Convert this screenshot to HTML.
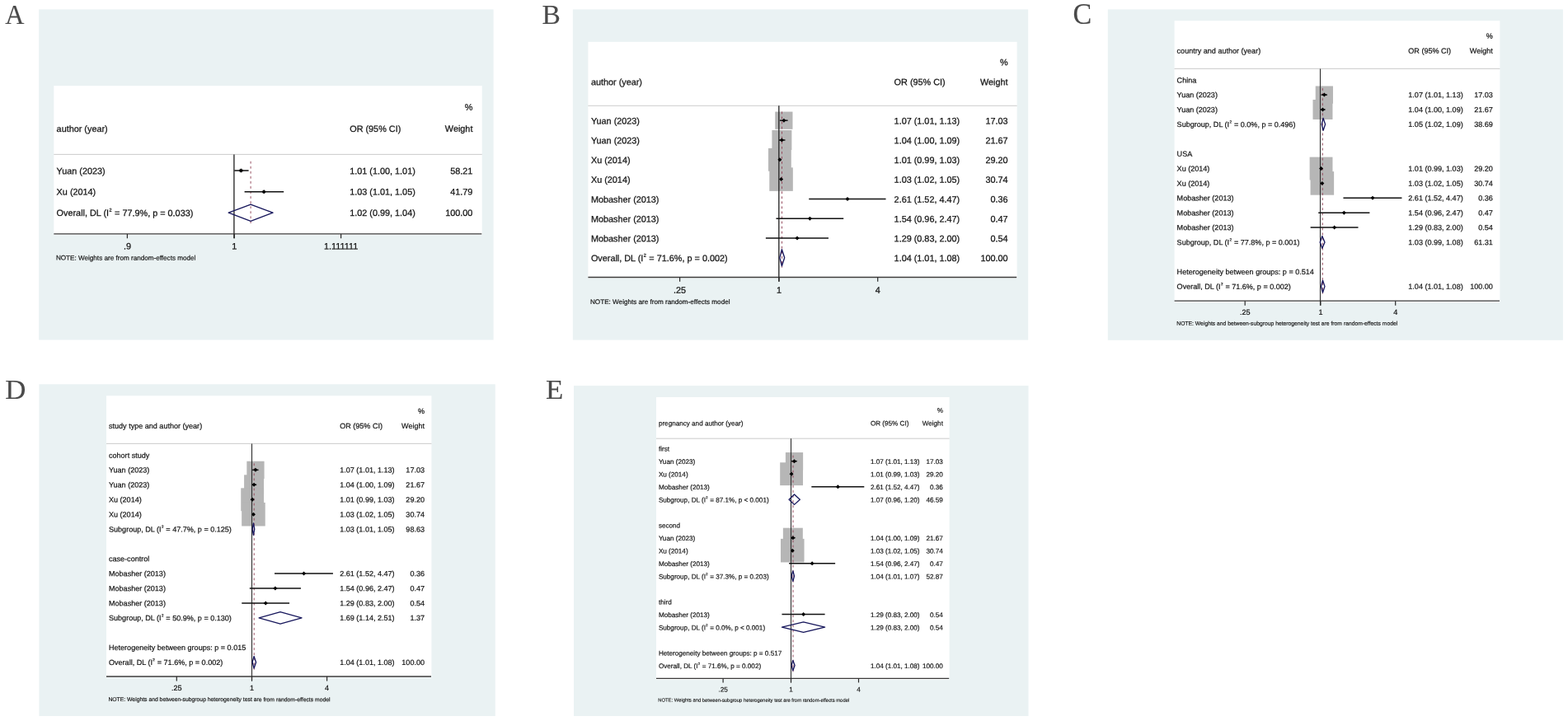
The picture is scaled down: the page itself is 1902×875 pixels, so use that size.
<!DOCTYPE html>
<html lang="en"><head><meta charset="utf-8"><title>Forest plots</title>
<style>
html,body{margin:0;padding:0;background:#fff;}
body{width:1902px;height:875px;overflow:hidden;}
svg{display:block;}
.s{font-family:"Liberation Sans",sans-serif;}
.r{font-family:"Liberation Serif",serif;}
text{white-space:pre;}
</style></head><body>
<svg width="1902" height="875" viewBox="0 0 1902 875">
<rect width="1902" height="875" fill="#fff"/>
<g>
<rect x="47.1" y="11.4" width="551.50" height="401.10" fill="#eaf2f3"/>
<rect x="65.3" y="104.1" width="519.40" height="181.25" fill="#fff"/>
<text class="r" transform="translate(6.3 29.3) scale(0.94 1)" font-size="34.2" fill="#4a4a4a" stroke="#4a4a4a" stroke-width="0.12">A</text>
<rect x="290.10" y="204.70" width="4.60" height="4.60" fill="#b6b6b6"/>
<rect x="318.10" y="230.70" width="4.00" height="4.00" fill="#b6b6b6"/>
<line x1="65.3" y1="187.4" x2="584.7" y2="187.4" stroke="#a8a8a8" stroke-width="0.6"/>
<line x1="65.3" y1="283.95" x2="584.30" y2="283.95" stroke="#3a3a3a" stroke-width="1.3"/>
<line x1="283.9" y1="187.4" x2="283.9" y2="289.15" stroke="#2e2e2e" stroke-width="1.4"/>
<line x1="154.4" y1="283.95" x2="154.4" y2="289.15" stroke="#2a2a2a" stroke-width="1.2"/>
<text class="s" transform="translate(154.40 302.48) rotate(0.03)" font-size="10.85" text-anchor="middle" fill="#141414" stroke="#141414" stroke-width="0.260">.9</text>
<line x1="284.3" y1="283.95" x2="284.3" y2="289.15" stroke="#2a2a2a" stroke-width="1.2"/>
<text class="s" transform="translate(284.30 302.48) rotate(0.03)" font-size="10.85" text-anchor="middle" fill="#141414" stroke="#141414" stroke-width="0.260">1</text>
<line x1="413.6" y1="283.95" x2="413.6" y2="289.15" stroke="#2a2a2a" stroke-width="1.2"/>
<text class="s" transform="translate(413.60 302.48) rotate(0.03)" font-size="10.85" text-anchor="middle" fill="#141414" stroke="#141414" stroke-width="0.260">1.111111</text>
<line x1="304.1" y1="195.8" x2="304.1" y2="271" stroke="#93475a" stroke-width="0.95" stroke-dasharray="2.8 3.25"/>
<text class="s" transform="translate(68.60 159.88) rotate(0.03)" font-size="10.85" fill="#141414" stroke="#141414" stroke-width="0.260">author (year)</text>
<text class="s" transform="translate(424.20 159.88) rotate(0.03)" font-size="10.85" fill="#141414" stroke="#141414" stroke-width="0.260">OR (95% CI)</text>
<text class="s" transform="translate(573.40 159.88) rotate(0.03)" font-size="10.85" text-anchor="end" fill="#141414" stroke="#141414" stroke-width="0.260">Weight</text>
<text class="s" transform="translate(573.40 133.88) rotate(0.03)" font-size="10.85" text-anchor="end" fill="#141414" stroke="#141414" stroke-width="0.260">%</text>
<text class="s" transform="translate(68.60 211.28) rotate(0.03)" font-size="10.85" fill="#141414" stroke="#141414" stroke-width="0.260">Yuan (2023)</text>
<text class="s" transform="translate(424.20 211.28) rotate(0.03)" font-size="10.85" fill="#141414" stroke="#141414" stroke-width="0.260">1.01 (1.00, 1.01)</text>
<text class="s" transform="translate(573.40 211.28) rotate(0.03)" font-size="10.85" text-anchor="end" fill="#141414" stroke="#141414" stroke-width="0.260">58.21</text>
<line x1="284.3" y1="207.0" x2="301.6" y2="207.0" stroke="#111" stroke-width="1.5"/>
<path d="M289.90 207.0L292.4 204.50L294.90 207.0L292.4 209.50Z" fill="#000"/>
<text class="s" transform="translate(68.60 236.58) rotate(0.03)" font-size="10.85" fill="#141414" stroke="#141414" stroke-width="0.260">Xu (2014)</text>
<text class="s" transform="translate(424.20 236.58) rotate(0.03)" font-size="10.85" fill="#141414" stroke="#141414" stroke-width="0.260">1.03 (1.01, 1.05)</text>
<text class="s" transform="translate(573.40 236.58) rotate(0.03)" font-size="10.85" text-anchor="end" fill="#141414" stroke="#141414" stroke-width="0.260">41.79</text>
<line x1="296.6" y1="232.7" x2="344.2" y2="232.7" stroke="#111" stroke-width="1.5"/>
<path d="M317.60 232.7L320.1 230.20L322.60 232.7L320.1 235.20Z" fill="#000"/>
<text class="s" transform="translate(68.60 262.08) rotate(0.03)" font-size="10.85" fill="#141414" stroke="#141414" stroke-width="0.260">Overall, DL (I<tspan dy="-5.64" dx="0.43" font-size="5.42">2</tspan><tspan dy="5.64" dx="0.54"> </tspan>= 77.9%, p = 0.033)</text>
<text class="s" transform="translate(424.20 262.08) rotate(0.03)" font-size="10.85" fill="#141414" stroke="#141414" stroke-width="0.260">1.02 (0.99, 1.04)</text>
<text class="s" transform="translate(573.40 262.08) rotate(0.03)" font-size="10.85" text-anchor="end" fill="#141414" stroke="#141414" stroke-width="0.260">100.00</text>
<path d="M277.2 258.2L304.1 248.1L331.0 258.2L304.1 268.3Z" fill="none" stroke="#17175c" stroke-width="1.35" stroke-linejoin="round"/>
<text class="s" transform="translate(67.90 315.62) rotate(0.03)" font-size="8.15" fill="#141414" stroke="#141414" stroke-width="0.196">NOTE: Weights are from random-effects model</text>
</g>
<g>
<rect x="694.8" y="11.4" width="552.40" height="401.20" fill="#eaf2f3"/>
<rect x="713.4" y="50.8" width="520.20" height="287.10" fill="#fff"/>
<text class="r" transform="translate(657.5 28.9) scale(0.98 1)" font-size="34.2" fill="#4a4a4a" stroke="#4a4a4a" stroke-width="0.12">B</text>
<rect x="940.23" y="135.57" width="21.25" height="21.25" fill="#b6b6b6"/>
<rect x="936.40" y="158.01" width="23.97" height="23.97" fill="#b6b6b6"/>
<rect x="931.95" y="179.88" width="27.83" height="27.83" fill="#b6b6b6"/>
<rect x="933.28" y="203.32" width="28.55" height="28.55" fill="#b6b6b6"/>
<line x1="713.4" y1="128.3" x2="1233.6" y2="128.3" stroke="#a8a8a8" stroke-width="0.6"/>
<line x1="713.4" y1="336.5" x2="1233.20" y2="336.5" stroke="#3a3a3a" stroke-width="1.3"/>
<line x1="944.8" y1="128.3" x2="944.8" y2="341.7" stroke="#2e2e2e" stroke-width="1.4"/>
<line x1="824.6" y1="336.5" x2="824.6" y2="341.7" stroke="#2a2a2a" stroke-width="1.2"/>
<text class="s" transform="translate(824.60 355.68) rotate(0.03)" font-size="10.85" text-anchor="middle" fill="#141414" stroke="#141414" stroke-width="0.260">.25</text>
<line x1="945.0" y1="336.5" x2="945.0" y2="341.7" stroke="#2a2a2a" stroke-width="1.2"/>
<text class="s" transform="translate(945.00 355.68) rotate(0.03)" font-size="10.85" text-anchor="middle" fill="#141414" stroke="#141414" stroke-width="0.260">1</text>
<line x1="1064.7" y1="336.5" x2="1064.7" y2="341.7" stroke="#2a2a2a" stroke-width="1.2"/>
<text class="s" transform="translate(1064.70 355.68) rotate(0.03)" font-size="10.85" text-anchor="middle" fill="#141414" stroke="#141414" stroke-width="0.260">4</text>
<line x1="948.5" y1="135.5" x2="948.5" y2="324.7" stroke="#93475a" stroke-width="0.95" stroke-dasharray="2.8 3.25"/>
<text class="s" transform="translate(716.90 103.18) rotate(0.03)" font-size="10.85" fill="#141414" stroke="#141414" stroke-width="0.260">author (year)</text>
<text class="s" transform="translate(1084.60 103.18) rotate(0.03)" font-size="10.85" fill="#141414" stroke="#141414" stroke-width="0.260">OR (95% CI)</text>
<text class="s" transform="translate(1222.60 103.18) rotate(0.03)" font-size="10.85" text-anchor="end" fill="#141414" stroke="#141414" stroke-width="0.260">Weight</text>
<text class="s" transform="translate(1222.60 79.28) rotate(0.03)" font-size="10.85" text-anchor="end" fill="#141414" stroke="#141414" stroke-width="0.260">%</text>
<text class="s" transform="translate(716.90 150.43) rotate(0.03)" font-size="10.85" fill="#141414" stroke="#141414" stroke-width="0.260">Yuan (2023)</text>
<text class="s" transform="translate(1084.60 150.43) rotate(0.03)" font-size="10.85" fill="#141414" stroke="#141414" stroke-width="0.260">1.07 (1.01, 1.13)</text>
<text class="s" transform="translate(1222.60 150.43) rotate(0.03)" font-size="10.85" text-anchor="end" fill="#141414" stroke="#141414" stroke-width="0.260">17.03</text>
<line x1="945.86" y1="146.2" x2="955.57" y2="146.2" stroke="#111" stroke-width="1.5"/>
<path d="M948.35 146.2L950.85 143.70L953.35 146.2L950.85 148.70Z" fill="#000"/>
<text class="s" transform="translate(716.90 174.23) rotate(0.03)" font-size="10.85" fill="#141414" stroke="#141414" stroke-width="0.260">Yuan (2023)</text>
<text class="s" transform="translate(1084.60 174.23) rotate(0.03)" font-size="10.85" fill="#141414" stroke="#141414" stroke-width="0.260">1.04 (1.00, 1.09)</text>
<text class="s" transform="translate(1222.60 174.23) rotate(0.03)" font-size="10.85" text-anchor="end" fill="#141414" stroke="#141414" stroke-width="0.260">21.67</text>
<line x1="945.0" y1="170.0" x2="952.45" y2="170.0" stroke="#111" stroke-width="1.5"/>
<path d="M945.89 170.0L948.39 167.50L950.89 170.0L948.39 172.50Z" fill="#000"/>
<text class="s" transform="translate(716.90 198.03) rotate(0.03)" font-size="10.85" fill="#141414" stroke="#141414" stroke-width="0.260">Xu (2014)</text>
<text class="s" transform="translate(1084.60 198.03) rotate(0.03)" font-size="10.85" fill="#141414" stroke="#141414" stroke-width="0.260">1.01 (0.99, 1.03)</text>
<text class="s" transform="translate(1222.60 198.03) rotate(0.03)" font-size="10.85" text-anchor="end" fill="#141414" stroke="#141414" stroke-width="0.260">29.20</text>
<line x1="944.13" y1="193.79999999999998" x2="947.56" y2="193.79999999999998" stroke="#111" stroke-width="1.5"/>
<path d="M943.36 193.79999999999998L945.86 191.30L948.36 193.79999999999998L945.86 196.30Z" fill="#000"/>
<text class="s" transform="translate(716.90 221.83) rotate(0.03)" font-size="10.85" fill="#141414" stroke="#141414" stroke-width="0.260">Xu (2014)</text>
<text class="s" transform="translate(1084.60 221.83) rotate(0.03)" font-size="10.85" fill="#141414" stroke="#141414" stroke-width="0.260">1.03 (1.02, 1.05)</text>
<text class="s" transform="translate(1222.60 221.83) rotate(0.03)" font-size="10.85" text-anchor="end" fill="#141414" stroke="#141414" stroke-width="0.260">30.74</text>
<line x1="946.71" y1="217.6" x2="949.22" y2="217.6" stroke="#111" stroke-width="1.5"/>
<path d="M945.06 217.6L947.56 215.10L950.06 217.6L947.56 220.10Z" fill="#000"/>
<text class="s" transform="translate(716.90 245.63) rotate(0.03)" font-size="10.85" fill="#141414" stroke="#141414" stroke-width="0.260">Mobasher (2013)</text>
<text class="s" transform="translate(1084.60 245.63) rotate(0.03)" font-size="10.85" fill="#141414" stroke="#141414" stroke-width="0.260">2.61 (1.52, 4.47)</text>
<text class="s" transform="translate(1222.60 245.63) rotate(0.03)" font-size="10.85" text-anchor="end" fill="#141414" stroke="#141414" stroke-width="0.260">0.36</text>
<line x1="981.22" y1="241.39999999999998" x2="1074.52" y2="241.39999999999998" stroke="#111" stroke-width="1.5"/>
<path d="M1025.48 241.39999999999998L1027.98 238.90L1030.48 241.39999999999998L1027.98 243.90Z" fill="#000"/>
<text class="s" transform="translate(716.90 269.43) rotate(0.03)" font-size="10.85" fill="#141414" stroke="#141414" stroke-width="0.260">Mobasher (2013)</text>
<text class="s" transform="translate(1084.60 269.43) rotate(0.03)" font-size="10.85" fill="#141414" stroke="#141414" stroke-width="0.260">1.54 (0.96, 2.47)</text>
<text class="s" transform="translate(1222.60 269.43) rotate(0.03)" font-size="10.85" text-anchor="end" fill="#141414" stroke="#141414" stroke-width="0.260">0.47</text>
<line x1="941.47" y1="265.2" x2="1023.21" y2="265.2" stroke="#111" stroke-width="1.5"/>
<path d="M979.85 265.2L982.35 262.70L984.85 265.2L982.35 267.70Z" fill="#000"/>
<text class="s" transform="translate(716.90 293.23) rotate(0.03)" font-size="10.85" fill="#141414" stroke="#141414" stroke-width="0.260">Mobasher (2013)</text>
<text class="s" transform="translate(1084.60 293.23) rotate(0.03)" font-size="10.85" fill="#141414" stroke="#141414" stroke-width="0.260">1.29 (0.83, 2.00)</text>
<text class="s" transform="translate(1222.60 293.23) rotate(0.03)" font-size="10.85" text-anchor="end" fill="#141414" stroke="#141414" stroke-width="0.260">0.54</text>
<line x1="928.88" y1="289.0" x2="1004.96" y2="289.0" stroke="#111" stroke-width="1.5"/>
<path d="M964.53 289.0L967.03 286.50L969.53 289.0L967.03 291.50Z" fill="#000"/>
<text class="s" transform="translate(716.90 317.03) rotate(0.03)" font-size="10.85" fill="#141414" stroke="#141414" stroke-width="0.260">Overall, DL (I<tspan dy="-5.64" dx="0.43" font-size="5.42">2</tspan><tspan dy="5.64" dx="0.54"> </tspan>= 71.6%, p = 0.002)</text>
<text class="s" transform="translate(1084.60 317.03) rotate(0.03)" font-size="10.85" fill="#141414" stroke="#141414" stroke-width="0.260">1.04 (1.01, 1.08)</text>
<text class="s" transform="translate(1222.60 317.03) rotate(0.03)" font-size="10.85" text-anchor="end" fill="#141414" stroke="#141414" stroke-width="0.260">100.00</text>
<path d="M945.86 312.79999999999995L948.39 302.69999999999993L951.66 312.79999999999995L948.39 322.9Z" fill="none" stroke="#17175c" stroke-width="1.35" stroke-linejoin="round"/>
<text class="s" transform="translate(716.00 369.02) rotate(0.03)" font-size="8.15" fill="#141414" stroke="#141414" stroke-width="0.196">NOTE: Weights are from random-effects model</text>
</g>
<g>
<rect x="1343.8" y="11.4" width="552.10" height="401.40" fill="#eaf2f3"/>
<rect x="1424.6" y="25.2" width="394.80" height="341.40" fill="#fff"/>
<text class="r" transform="translate(1301.5 29.2) scale(0.98 1)" font-size="34.8" fill="#4a4a4a" stroke="#4a4a4a" stroke-width="0.12">C</text>
<rect x="1595.72" y="104.46" width="21.25" height="21.25" fill="#b6b6b6"/>
<rect x="1592.50" y="120.99" width="23.97" height="23.97" fill="#b6b6b6"/>
<rect x="1588.63" y="190.60" width="27.83" height="27.83" fill="#b6b6b6"/>
<rect x="1589.56" y="208.13" width="28.55" height="28.55" fill="#b6b6b6"/>
<line x1="1424.6" y1="83.4" x2="1819.4" y2="83.4" stroke="#a8a8a8" stroke-width="0.6"/>
<line x1="1424.6" y1="365.2" x2="1819.00" y2="365.2" stroke="#3a3a3a" stroke-width="1.3"/>
<line x1="1601.5" y1="83.4" x2="1601.5" y2="370.7" stroke="#2e2e2e" stroke-width="1.1"/>
<line x1="1510.2" y1="365.2" x2="1510.2" y2="370.7" stroke="#2a2a2a" stroke-width="1.2"/>
<text class="s" transform="translate(1510.20 381.94) rotate(0.03)" font-size="9.06" text-anchor="middle" fill="#141414" stroke="#141414" stroke-width="0.217">.25</text>
<line x1="1601.9" y1="365.2" x2="1601.9" y2="370.7" stroke="#2a2a2a" stroke-width="1.2"/>
<text class="s" transform="translate(1601.90 381.94) rotate(0.03)" font-size="9.06" text-anchor="middle" fill="#141414" stroke="#141414" stroke-width="0.217">1</text>
<line x1="1692.7" y1="365.2" x2="1692.7" y2="370.7" stroke="#2a2a2a" stroke-width="1.2"/>
<text class="s" transform="translate(1692.70 381.94) rotate(0.03)" font-size="9.06" text-anchor="middle" fill="#141414" stroke="#141414" stroke-width="0.217">4</text>
<line x1="1604.3" y1="107.1" x2="1604.3" y2="356.5" stroke="#93475a" stroke-width="0.95" stroke-dasharray="2.8 3.25"/>
<text class="s" transform="translate(1427.60 64.74) rotate(0.03)" font-size="9.06" fill="#141414" stroke="#141414" stroke-width="0.217">country and author (year)</text>
<text class="s" transform="translate(1708.30 64.74) rotate(0.03)" font-size="9.06" fill="#141414" stroke="#141414" stroke-width="0.217">OR (95% CI)</text>
<text class="s" transform="translate(1810.80 64.74) rotate(0.03)" font-size="9.06" text-anchor="end" fill="#141414" stroke="#141414" stroke-width="0.217">Weight</text>
<text class="s" transform="translate(1810.80 46.84) rotate(0.03)" font-size="9.06" text-anchor="end" fill="#141414" stroke="#141414" stroke-width="0.217">%</text>
<text class="s" transform="translate(1427.60 100.44) rotate(0.03)" font-size="9.06" fill="#141414" stroke="#141414" stroke-width="0.217">China</text>
<text class="s" transform="translate(1427.60 118.33) rotate(0.03)" font-size="9.06" fill="#141414" stroke="#141414" stroke-width="0.217">Yuan (2023)</text>
<text class="s" transform="translate(1708.30 118.33) rotate(0.03)" font-size="9.06" fill="#141414" stroke="#141414" stroke-width="0.217">1.07 (1.01, 1.13)</text>
<text class="s" transform="translate(1810.80 118.33) rotate(0.03)" font-size="9.06" text-anchor="end" fill="#141414" stroke="#141414" stroke-width="0.217">17.03</text>
<line x1="1602.55" y1="115.086" x2="1609.94" y2="115.086" stroke="#111" stroke-width="1.5"/>
<path d="M1603.85 115.086L1606.35 112.59L1608.85 115.086L1606.35 117.59Z" fill="#000"/>
<text class="s" transform="translate(1427.60 136.22) rotate(0.03)" font-size="9.06" fill="#141414" stroke="#141414" stroke-width="0.217">Yuan (2023)</text>
<text class="s" transform="translate(1708.30 136.22) rotate(0.03)" font-size="9.06" fill="#141414" stroke="#141414" stroke-width="0.217">1.04 (1.00, 1.09)</text>
<text class="s" transform="translate(1810.80 136.22) rotate(0.03)" font-size="9.06" text-anchor="end" fill="#141414" stroke="#141414" stroke-width="0.217">21.67</text>
<line x1="1601.9" y1="132.972" x2="1607.57" y2="132.972" stroke="#111" stroke-width="1.5"/>
<path d="M1601.98 132.972L1604.48 130.47L1606.98 132.972L1604.48 135.47Z" fill="#000"/>
<text class="s" transform="translate(1427.60 154.10) rotate(0.03)" font-size="9.06" fill="#141414" stroke="#141414" stroke-width="0.217">Subgroup, DL (I<tspan dy="-4.71" dx="0.36" font-size="4.53">2</tspan><tspan dy="4.71" dx="0.45"> </tspan>= 0.0%, p = 0.496)</text>
<text class="s" transform="translate(1708.30 154.10) rotate(0.03)" font-size="9.06" fill="#141414" stroke="#141414" stroke-width="0.217">1.05 (1.02, 1.09)</text>
<text class="s" transform="translate(1810.80 154.10) rotate(0.03)" font-size="9.06" text-anchor="end" fill="#141414" stroke="#141414" stroke-width="0.217">38.69</text>
<path d="M1603.2 150.858L1605.11 143.458L1607.57 150.858L1605.11 158.258Z" fill="none" stroke="#17175c" stroke-width="1.35" stroke-linejoin="round"/>
<text class="s" transform="translate(1427.60 189.87) rotate(0.03)" font-size="9.06" fill="#141414" stroke="#141414" stroke-width="0.217">USA</text>
<text class="s" transform="translate(1427.60 207.76) rotate(0.03)" font-size="9.06" fill="#141414" stroke="#141414" stroke-width="0.217">Xu (2014)</text>
<text class="s" transform="translate(1708.30 207.76) rotate(0.03)" font-size="9.06" fill="#141414" stroke="#141414" stroke-width="0.217">1.01 (0.99, 1.03)</text>
<text class="s" transform="translate(1810.80 207.76) rotate(0.03)" font-size="9.06" text-anchor="end" fill="#141414" stroke="#141414" stroke-width="0.217">29.20</text>
<line x1="1601.24" y1="204.51600000000002" x2="1603.84" y2="204.51600000000002" stroke="#111" stroke-width="1.5"/>
<path d="M1600.05 204.51600000000002L1602.55 202.02L1605.05 204.51600000000002L1602.55 207.02Z" fill="#000"/>
<text class="s" transform="translate(1427.60 225.65) rotate(0.03)" font-size="9.06" fill="#141414" stroke="#141414" stroke-width="0.217">Xu (2014)</text>
<text class="s" transform="translate(1708.30 225.65) rotate(0.03)" font-size="9.06" fill="#141414" stroke="#141414" stroke-width="0.217">1.03 (1.02, 1.05)</text>
<text class="s" transform="translate(1810.80 225.65) rotate(0.03)" font-size="9.06" text-anchor="end" fill="#141414" stroke="#141414" stroke-width="0.217">30.74</text>
<line x1="1603.2" y1="222.402" x2="1605.11" y2="222.402" stroke="#111" stroke-width="1.5"/>
<path d="M1601.34 222.402L1603.84 219.90L1606.34 222.402L1603.84 224.90Z" fill="#000"/>
<text class="s" transform="translate(1427.60 243.53) rotate(0.03)" font-size="9.06" fill="#141414" stroke="#141414" stroke-width="0.217">Mobasher (2013)</text>
<text class="s" transform="translate(1708.30 243.53) rotate(0.03)" font-size="9.06" fill="#141414" stroke="#141414" stroke-width="0.217">2.61 (1.52, 4.47)</text>
<text class="s" transform="translate(1810.80 243.53) rotate(0.03)" font-size="9.06" text-anchor="end" fill="#141414" stroke="#141414" stroke-width="0.217">0.36</text>
<line x1="1629.45" y1="240.288" x2="1700.43" y2="240.288" stroke="#111" stroke-width="1.5"/>
<path d="M1662.53 240.288L1665.03 237.79L1667.53 240.288L1665.03 242.79Z" fill="#000"/>
<text class="s" transform="translate(1427.60 261.42) rotate(0.03)" font-size="9.06" fill="#141414" stroke="#141414" stroke-width="0.217">Mobasher (2013)</text>
<text class="s" transform="translate(1708.30 261.42) rotate(0.03)" font-size="9.06" fill="#141414" stroke="#141414" stroke-width="0.217">1.54 (0.96, 2.47)</text>
<text class="s" transform="translate(1810.80 261.42) rotate(0.03)" font-size="9.06" text-anchor="end" fill="#141414" stroke="#141414" stroke-width="0.217">0.47</text>
<line x1="1599.21" y1="258.174" x2="1661.4" y2="258.174" stroke="#111" stroke-width="1.5"/>
<path d="M1627.81 258.174L1630.31 255.67L1632.81 258.174L1630.31 260.67Z" fill="#000"/>
<text class="s" transform="translate(1427.60 279.30) rotate(0.03)" font-size="9.06" fill="#141414" stroke="#141414" stroke-width="0.217">Mobasher (2013)</text>
<text class="s" transform="translate(1708.30 279.30) rotate(0.03)" font-size="9.06" fill="#141414" stroke="#141414" stroke-width="0.217">1.29 (0.83, 2.00)</text>
<text class="s" transform="translate(1810.80 279.30) rotate(0.03)" font-size="9.06" text-anchor="end" fill="#141414" stroke="#141414" stroke-width="0.217">0.54</text>
<line x1="1589.64" y1="276.06" x2="1647.51" y2="276.06" stroke="#111" stroke-width="1.5"/>
<path d="M1616.16 276.06L1618.66 273.56L1621.16 276.06L1618.66 278.56Z" fill="#000"/>
<text class="s" transform="translate(1427.60 297.19) rotate(0.03)" font-size="9.06" fill="#141414" stroke="#141414" stroke-width="0.217">Subgroup, DL (I<tspan dy="-4.71" dx="0.36" font-size="4.53">2</tspan><tspan dy="4.71" dx="0.45"> </tspan>= 77.8%, p = 0.001)</text>
<text class="s" transform="translate(1708.30 297.19) rotate(0.03)" font-size="9.06" fill="#141414" stroke="#141414" stroke-width="0.217">1.03 (0.99, 1.08)</text>
<text class="s" transform="translate(1810.80 297.19) rotate(0.03)" font-size="9.06" text-anchor="end" fill="#141414" stroke="#141414" stroke-width="0.217">61.31</text>
<path d="M1601.24 293.94599999999997L1603.84 286.546L1606.96 293.94599999999997L1603.84 301.34599999999995Z" fill="none" stroke="#17175c" stroke-width="1.35" stroke-linejoin="round"/>
<text class="s" transform="translate(1427.60 332.96) rotate(0.03)" font-size="9.06" fill="#141414" stroke="#141414" stroke-width="0.217">Heterogeneity between groups: p = 0.514</text>
<text class="s" transform="translate(1427.60 350.85) rotate(0.03)" font-size="9.06" fill="#141414" stroke="#141414" stroke-width="0.217">Overall, DL (I<tspan dy="-4.71" dx="0.36" font-size="4.53">2</tspan><tspan dy="4.71" dx="0.45"> </tspan>= 71.6%, p = 0.002)</text>
<text class="s" transform="translate(1708.30 350.85) rotate(0.03)" font-size="9.06" fill="#141414" stroke="#141414" stroke-width="0.217">1.04 (1.01, 1.08)</text>
<text class="s" transform="translate(1810.80 350.85) rotate(0.03)" font-size="9.06" text-anchor="end" fill="#141414" stroke="#141414" stroke-width="0.217">100.00</text>
<path d="M1602.55 347.604L1604.48 340.204L1606.96 347.604L1604.48 355.00399999999996Z" fill="none" stroke="#17175c" stroke-width="1.35" stroke-linejoin="round"/>
<text class="s" transform="translate(1427.30 394.73) rotate(0.03)" font-size="6.78" fill="#141414" stroke="#141414" stroke-width="0.163">NOTE: Weights and between-subgroup heterogeneity test are from random-effects model</text>
</g>
<g>
<rect x="47.4" y="466.3" width="553.40" height="402.70" fill="#eaf2f3"/>
<rect x="129.0" y="480.3" width="394.40" height="342.10" fill="#fff"/>
<text class="r" transform="translate(6.2 484.1) scale(1.02 1)" font-size="34.2" fill="#4a4a4a" stroke="#4a4a4a" stroke-width="0.12">D</text>
<rect x="299.32" y="559.73" width="21.25" height="21.25" fill="#b6b6b6"/>
<rect x="296.09" y="576.31" width="23.97" height="23.97" fill="#b6b6b6"/>
<rect x="292.23" y="592.34" width="27.83" height="27.83" fill="#b6b6b6"/>
<rect x="293.17" y="609.92" width="28.55" height="28.55" fill="#b6b6b6"/>
<line x1="129.0" y1="538.4" x2="523.4" y2="538.4" stroke="#a8a8a8" stroke-width="0.6"/>
<line x1="129.0" y1="821.0" x2="523.00" y2="821.0" stroke="#3a3a3a" stroke-width="1.3"/>
<line x1="305.5" y1="538.4" x2="305.5" y2="826.5" stroke="#2e2e2e" stroke-width="1.1"/>
<line x1="214.3" y1="821.0" x2="214.3" y2="826.5" stroke="#2a2a2a" stroke-width="1.2"/>
<text class="s" transform="translate(214.30 838.04) rotate(0.03)" font-size="9.06" text-anchor="middle" fill="#141414" stroke="#141414" stroke-width="0.217">.25</text>
<line x1="305.5" y1="821.0" x2="305.5" y2="826.5" stroke="#2a2a2a" stroke-width="1.2"/>
<text class="s" transform="translate(305.50 838.04) rotate(0.03)" font-size="9.06" text-anchor="middle" fill="#141414" stroke="#141414" stroke-width="0.217">1</text>
<line x1="396.6" y1="821.0" x2="396.6" y2="826.5" stroke="#2a2a2a" stroke-width="1.2"/>
<text class="s" transform="translate(396.60 838.04) rotate(0.03)" font-size="9.06" text-anchor="middle" fill="#141414" stroke="#141414" stroke-width="0.217">4</text>
<line x1="308.2" y1="562.3" x2="308.2" y2="812.7" stroke="#93475a" stroke-width="0.95" stroke-dasharray="2.8 3.25"/>
<text class="s" transform="translate(132.00 519.94) rotate(0.03)" font-size="9.06" fill="#141414" stroke="#141414" stroke-width="0.217">study type and author (year)</text>
<text class="s" transform="translate(412.20 519.94) rotate(0.03)" font-size="9.06" fill="#141414" stroke="#141414" stroke-width="0.217">OR (95% CI)</text>
<text class="s" transform="translate(515.00 519.94) rotate(0.03)" font-size="9.06" text-anchor="end" fill="#141414" stroke="#141414" stroke-width="0.217">Weight</text>
<text class="s" transform="translate(515.00 501.94) rotate(0.03)" font-size="9.06" text-anchor="end" fill="#141414" stroke="#141414" stroke-width="0.217">%</text>
<text class="s" transform="translate(132.00 555.64) rotate(0.03)" font-size="9.06" fill="#141414" stroke="#141414" stroke-width="0.217">cohort study</text>
<text class="s" transform="translate(132.00 573.59) rotate(0.03)" font-size="9.06" fill="#141414" stroke="#141414" stroke-width="0.217">Yuan (2023)</text>
<text class="s" transform="translate(412.20 573.59) rotate(0.03)" font-size="9.06" fill="#141414" stroke="#141414" stroke-width="0.217">1.07 (1.01, 1.13)</text>
<text class="s" transform="translate(515.00 573.59) rotate(0.03)" font-size="9.06" text-anchor="end" fill="#141414" stroke="#141414" stroke-width="0.217">17.03</text>
<line x1="306.15" y1="570.35" x2="313.54" y2="570.35" stroke="#111" stroke-width="1.5"/>
<path d="M307.45 570.35L309.95 567.85L312.45 570.35L309.95 572.85Z" fill="#000"/>
<text class="s" transform="translate(132.00 591.54) rotate(0.03)" font-size="9.06" fill="#141414" stroke="#141414" stroke-width="0.217">Yuan (2023)</text>
<text class="s" transform="translate(412.20 591.54) rotate(0.03)" font-size="9.06" fill="#141414" stroke="#141414" stroke-width="0.217">1.04 (1.00, 1.09)</text>
<text class="s" transform="translate(515.00 591.54) rotate(0.03)" font-size="9.06" text-anchor="end" fill="#141414" stroke="#141414" stroke-width="0.217">21.67</text>
<line x1="305.5" y1="588.3" x2="311.17" y2="588.3" stroke="#111" stroke-width="1.5"/>
<path d="M305.58 588.3L308.08 585.80L310.58 588.3L308.08 590.80Z" fill="#000"/>
<text class="s" transform="translate(132.00 609.49) rotate(0.03)" font-size="9.06" fill="#141414" stroke="#141414" stroke-width="0.217">Xu (2014)</text>
<text class="s" transform="translate(412.20 609.49) rotate(0.03)" font-size="9.06" fill="#141414" stroke="#141414" stroke-width="0.217">1.01 (0.99, 1.03)</text>
<text class="s" transform="translate(515.00 609.49) rotate(0.03)" font-size="9.06" text-anchor="end" fill="#141414" stroke="#141414" stroke-width="0.217">29.20</text>
<line x1="304.84" y1="606.25" x2="307.44" y2="606.25" stroke="#111" stroke-width="1.5"/>
<path d="M303.65 606.25L306.15 603.75L308.65 606.25L306.15 608.75Z" fill="#000"/>
<text class="s" transform="translate(132.00 627.44) rotate(0.03)" font-size="9.06" fill="#141414" stroke="#141414" stroke-width="0.217">Xu (2014)</text>
<text class="s" transform="translate(412.20 627.44) rotate(0.03)" font-size="9.06" fill="#141414" stroke="#141414" stroke-width="0.217">1.03 (1.02, 1.05)</text>
<text class="s" transform="translate(515.00 627.44) rotate(0.03)" font-size="9.06" text-anchor="end" fill="#141414" stroke="#141414" stroke-width="0.217">30.74</text>
<line x1="306.8" y1="624.1999999999999" x2="308.71" y2="624.1999999999999" stroke="#111" stroke-width="1.5"/>
<path d="M304.94 624.1999999999999L307.44 621.70L309.94 624.1999999999999L307.44 626.70Z" fill="#000"/>
<text class="s" transform="translate(132.00 645.39) rotate(0.03)" font-size="9.06" fill="#141414" stroke="#141414" stroke-width="0.217">Subgroup, DL (I<tspan dy="-4.71" dx="0.36" font-size="4.53">2</tspan><tspan dy="4.71" dx="0.45"> </tspan>= 47.7%, p = 0.125)</text>
<text class="s" transform="translate(412.20 645.39) rotate(0.03)" font-size="9.06" fill="#141414" stroke="#141414" stroke-width="0.217">1.03 (1.01, 1.05)</text>
<text class="s" transform="translate(515.00 645.39) rotate(0.03)" font-size="9.06" text-anchor="end" fill="#141414" stroke="#141414" stroke-width="0.217">98.63</text>
<path d="M306.15 642.15L307.44 634.85L308.71 642.15L307.44 649.4499999999999Z" fill="none" stroke="#17175c" stroke-width="1.35" stroke-linejoin="round"/>
<text class="s" transform="translate(132.00 681.29) rotate(0.03)" font-size="9.06" fill="#141414" stroke="#141414" stroke-width="0.217">case-control</text>
<text class="s" transform="translate(132.00 699.24) rotate(0.03)" font-size="9.06" fill="#141414" stroke="#141414" stroke-width="0.217">Mobasher (2013)</text>
<text class="s" transform="translate(412.20 699.24) rotate(0.03)" font-size="9.06" fill="#141414" stroke="#141414" stroke-width="0.217">2.61 (1.52, 4.47)</text>
<text class="s" transform="translate(515.00 699.24) rotate(0.03)" font-size="9.06" text-anchor="end" fill="#141414" stroke="#141414" stroke-width="0.217">0.36</text>
<line x1="333.03" y1="696.0" x2="403.95" y2="696.0" stroke="#111" stroke-width="1.5"/>
<path d="M366.08 696.0L368.58 693.50L371.08 696.0L368.58 698.50Z" fill="#000"/>
<text class="s" transform="translate(132.00 717.19) rotate(0.03)" font-size="9.06" fill="#141414" stroke="#141414" stroke-width="0.217">Mobasher (2013)</text>
<text class="s" transform="translate(412.20 717.19) rotate(0.03)" font-size="9.06" fill="#141414" stroke="#141414" stroke-width="0.217">1.54 (0.96, 2.47)</text>
<text class="s" transform="translate(515.00 717.19) rotate(0.03)" font-size="9.06" text-anchor="end" fill="#141414" stroke="#141414" stroke-width="0.217">0.47</text>
<line x1="302.82" y1="713.9499999999999" x2="364.95" y2="713.9499999999999" stroke="#111" stroke-width="1.5"/>
<path d="M331.39 713.9499999999999L333.89 711.45L336.39 713.9499999999999L333.89 716.45Z" fill="#000"/>
<text class="s" transform="translate(132.00 735.14) rotate(0.03)" font-size="9.06" fill="#141414" stroke="#141414" stroke-width="0.217">Mobasher (2013)</text>
<text class="s" transform="translate(412.20 735.14) rotate(0.03)" font-size="9.06" fill="#141414" stroke="#141414" stroke-width="0.217">1.29 (0.83, 2.00)</text>
<text class="s" transform="translate(515.00 735.14) rotate(0.03)" font-size="9.06" text-anchor="end" fill="#141414" stroke="#141414" stroke-width="0.217">0.54</text>
<line x1="293.25" y1="731.9" x2="351.07" y2="731.9" stroke="#111" stroke-width="1.5"/>
<path d="M319.74 731.9L322.24 729.40L324.74 731.9L322.24 734.40Z" fill="#000"/>
<text class="s" transform="translate(132.00 753.09) rotate(0.03)" font-size="9.06" fill="#141414" stroke="#141414" stroke-width="0.217">Subgroup, DL (I<tspan dy="-4.71" dx="0.36" font-size="4.53">2</tspan><tspan dy="4.71" dx="0.45"> </tspan>= 50.9%, p = 0.130)</text>
<text class="s" transform="translate(412.20 753.09) rotate(0.03)" font-size="9.06" fill="#141414" stroke="#141414" stroke-width="0.217">1.69 (1.14, 2.51)</text>
<text class="s" transform="translate(515.00 753.09) rotate(0.03)" font-size="9.06" text-anchor="end" fill="#141414" stroke="#141414" stroke-width="0.217">1.37</text>
<path d="M314.12 749.8499999999999L340.0 742.55L366.01 749.8499999999999L340.0 757.1499999999999Z" fill="none" stroke="#17175c" stroke-width="1.35" stroke-linejoin="round"/>
<text class="s" transform="translate(132.00 788.99) rotate(0.03)" font-size="9.06" fill="#141414" stroke="#141414" stroke-width="0.217">Heterogeneity between groups: p = 0.015</text>
<text class="s" transform="translate(132.00 806.94) rotate(0.03)" font-size="9.06" fill="#141414" stroke="#141414" stroke-width="0.217">Overall, DL (I<tspan dy="-4.71" dx="0.36" font-size="4.53">2</tspan><tspan dy="4.71" dx="0.45"> </tspan>= 71.6%, p = 0.002)</text>
<text class="s" transform="translate(412.20 806.94) rotate(0.03)" font-size="9.06" fill="#141414" stroke="#141414" stroke-width="0.217">1.04 (1.01, 1.08)</text>
<text class="s" transform="translate(515.00 806.94) rotate(0.03)" font-size="9.06" text-anchor="end" fill="#141414" stroke="#141414" stroke-width="0.217">100.00</text>
<path d="M306.15 803.6999999999999L308.08 796.4L310.56 803.6999999999999L308.08 810.9999999999999Z" fill="none" stroke="#17175c" stroke-width="1.35" stroke-linejoin="round"/>
<text class="s" transform="translate(131.40 851.03) rotate(0.03)" font-size="6.80" fill="#141414" stroke="#141414" stroke-width="0.163">NOTE: Weights and between-subgroup heterogeneity test are from random-effects model</text>
</g>
<g>
<rect x="696.0" y="468.1" width="551.50" height="400.90" fill="#eaf2f3"/>
<rect x="796.0" y="482.0" width="355.60" height="342.80" fill="#fff"/>
<text class="r" transform="translate(661.9 484.3) scale(1.02 1)" font-size="34.2" fill="#4a4a4a" stroke="#4a4a4a" stroke-width="0.12">E</text>
<rect x="952.88" y="549.07" width="21.25" height="21.25" fill="#b6b6b6"/>
<rect x="946.18" y="561.27" width="27.83" height="27.83" fill="#b6b6b6"/>
<rect x="949.85" y="640.67" width="23.97" height="23.97" fill="#b6b6b6"/>
<rect x="946.98" y="653.88" width="28.55" height="28.55" fill="#b6b6b6"/>
<line x1="796.0" y1="532.2" x2="1151.6" y2="532.2" stroke="#a8a8a8" stroke-width="0.6"/>
<line x1="796.0" y1="823.4" x2="1151.20" y2="823.4" stroke="#3a3a3a" stroke-width="1.3"/>
<line x1="959.5" y1="532.2" x2="959.5" y2="828.4" stroke="#2e2e2e" stroke-width="1.1"/>
<line x1="877.1" y1="823.4" x2="877.1" y2="828.4" stroke="#2a2a2a" stroke-width="1.2"/>
<text class="s" transform="translate(877.10 839.41) rotate(0.03)" font-size="8.13" text-anchor="middle" fill="#141414" stroke="#141414" stroke-width="0.195">.25</text>
<line x1="959.5" y1="823.4" x2="959.5" y2="828.4" stroke="#2a2a2a" stroke-width="1.2"/>
<text class="s" transform="translate(959.50 839.41) rotate(0.03)" font-size="8.13" text-anchor="middle" fill="#141414" stroke="#141414" stroke-width="0.195">1</text>
<line x1="1041.5" y1="823.4" x2="1041.5" y2="828.4" stroke="#2a2a2a" stroke-width="1.2"/>
<text class="s" transform="translate(1041.50 839.41) rotate(0.03)" font-size="8.13" text-anchor="middle" fill="#141414" stroke="#141414" stroke-width="0.195">4</text>
<line x1="962.0" y1="552.7" x2="962.0" y2="815.3" stroke="#93475a" stroke-width="0.95" stroke-dasharray="2.8 3.25"/>
<text class="s" transform="translate(798.90 516.41) rotate(0.03)" font-size="8.13" fill="#141414" stroke="#141414" stroke-width="0.195">pregnancy and author (year)</text>
<text class="s" transform="translate(1055.90 516.41) rotate(0.03)" font-size="8.13" fill="#141414" stroke="#141414" stroke-width="0.195">OR (95% CI)</text>
<text class="s" transform="translate(1143.90 516.41) rotate(0.03)" font-size="8.13" text-anchor="end" fill="#141414" stroke="#141414" stroke-width="0.195">Weight</text>
<text class="s" transform="translate(1143.90 500.81) rotate(0.03)" font-size="8.13" text-anchor="end" fill="#141414" stroke="#141414" stroke-width="0.195">%</text>
<text class="s" transform="translate(798.90 547.51) rotate(0.03)" font-size="8.13" fill="#141414" stroke="#141414" stroke-width="0.195">first</text>
<text class="s" transform="translate(798.90 563.00) rotate(0.03)" font-size="8.13" fill="#141414" stroke="#141414" stroke-width="0.195">Yuan (2023)</text>
<text class="s" transform="translate(1055.90 563.00) rotate(0.03)" font-size="8.13" fill="#141414" stroke="#141414" stroke-width="0.195">1.07 (1.01, 1.13)</text>
<text class="s" transform="translate(1143.90 563.00) rotate(0.03)" font-size="8.13" text-anchor="end" fill="#141414" stroke="#141414" stroke-width="0.195">17.03</text>
<line x1="960.09" y1="559.6940000000001" x2="966.75" y2="559.6940000000001" stroke="#111" stroke-width="1.5"/>
<path d="M961.01 559.6940000000001L963.51 557.19L966.01 559.6940000000001L963.51 562.19Z" fill="#000"/>
<text class="s" transform="translate(798.90 578.50) rotate(0.03)" font-size="8.13" fill="#141414" stroke="#141414" stroke-width="0.195">Xu (2014)</text>
<text class="s" transform="translate(1055.90 578.50) rotate(0.03)" font-size="8.13" fill="#141414" stroke="#141414" stroke-width="0.195">1.01 (0.99, 1.03)</text>
<text class="s" transform="translate(1143.90 578.50) rotate(0.03)" font-size="8.13" text-anchor="end" fill="#141414" stroke="#141414" stroke-width="0.195">29.20</text>
<line x1="958.9" y1="575.1880000000001" x2="961.25" y2="575.1880000000001" stroke="#111" stroke-width="1.5"/>
<path d="M957.59 575.1880000000001L960.09 572.69L962.59 575.1880000000001L960.09 577.69Z" fill="#000"/>
<text class="s" transform="translate(798.90 593.99) rotate(0.03)" font-size="8.13" fill="#141414" stroke="#141414" stroke-width="0.195">Mobasher (2013)</text>
<text class="s" transform="translate(1055.90 593.99) rotate(0.03)" font-size="8.13" fill="#141414" stroke="#141414" stroke-width="0.195">2.61 (1.52, 4.47)</text>
<text class="s" transform="translate(1143.90 593.99) rotate(0.03)" font-size="8.13" text-anchor="end" fill="#141414" stroke="#141414" stroke-width="0.195">0.36</text>
<line x1="984.33" y1="590.682" x2="1048.3" y2="590.682" stroke="#111" stroke-width="1.5"/>
<path d="M1013.89 590.682L1016.39 588.18L1018.89 590.682L1016.39 593.18Z" fill="#000"/>
<text class="s" transform="translate(798.90 609.49) rotate(0.03)" font-size="8.13" fill="#141414" stroke="#141414" stroke-width="0.195">Subgroup, DL (I<tspan dy="-4.23" dx="0.33" font-size="4.07">2</tspan><tspan dy="4.23" dx="0.41"> </tspan>= 87.1%, p &lt; 0.001)</text>
<text class="s" transform="translate(1055.90 609.49) rotate(0.03)" font-size="8.13" fill="#141414" stroke="#141414" stroke-width="0.195">1.07 (0.96, 1.20)</text>
<text class="s" transform="translate(1143.90 609.49) rotate(0.03)" font-size="8.13" text-anchor="end" fill="#141414" stroke="#141414" stroke-width="0.195">46.59</text>
<path d="M957.08 606.176L963.51 599.976L970.31 606.176L963.51 612.3760000000001Z" fill="none" stroke="#17175c" stroke-width="1.35" stroke-linejoin="round"/>
<text class="s" transform="translate(798.90 640.47) rotate(0.03)" font-size="8.13" fill="#141414" stroke="#141414" stroke-width="0.195">second</text>
<text class="s" transform="translate(798.90 655.97) rotate(0.03)" font-size="8.13" fill="#141414" stroke="#141414" stroke-width="0.195">Yuan (2023)</text>
<text class="s" transform="translate(1055.90 655.97) rotate(0.03)" font-size="8.13" fill="#141414" stroke="#141414" stroke-width="0.195">1.04 (1.00, 1.09)</text>
<text class="s" transform="translate(1143.90 655.97) rotate(0.03)" font-size="8.13" text-anchor="end" fill="#141414" stroke="#141414" stroke-width="0.195">21.67</text>
<line x1="959.5" y1="652.658" x2="964.61" y2="652.658" stroke="#111" stroke-width="1.5"/>
<path d="M959.33 652.658L961.83 650.16L964.33 652.658L961.83 655.16Z" fill="#000"/>
<text class="s" transform="translate(798.90 671.46) rotate(0.03)" font-size="8.13" fill="#141414" stroke="#141414" stroke-width="0.195">Xu (2014)</text>
<text class="s" transform="translate(1055.90 671.46) rotate(0.03)" font-size="8.13" fill="#141414" stroke="#141414" stroke-width="0.195">1.03 (1.02, 1.05)</text>
<text class="s" transform="translate(1143.90 671.46) rotate(0.03)" font-size="8.13" text-anchor="end" fill="#141414" stroke="#141414" stroke-width="0.195">30.74</text>
<line x1="960.67" y1="668.152" x2="962.39" y2="668.152" stroke="#111" stroke-width="1.5"/>
<path d="M958.75 668.152L961.25 665.65L963.75 668.152L961.25 670.65Z" fill="#000"/>
<text class="s" transform="translate(798.90 686.96) rotate(0.03)" font-size="8.13" fill="#141414" stroke="#141414" stroke-width="0.195">Mobasher (2013)</text>
<text class="s" transform="translate(1055.90 686.96) rotate(0.03)" font-size="8.13" fill="#141414" stroke="#141414" stroke-width="0.195">1.54 (0.96, 2.47)</text>
<text class="s" transform="translate(1143.90 686.96) rotate(0.03)" font-size="8.13" text-anchor="end" fill="#141414" stroke="#141414" stroke-width="0.195">0.47</text>
<line x1="957.08" y1="683.6460000000001" x2="1013.12" y2="683.6460000000001" stroke="#111" stroke-width="1.5"/>
<path d="M982.60 683.6460000000001L985.1 681.15L987.60 683.6460000000001L985.1 686.15Z" fill="#000"/>
<text class="s" transform="translate(798.90 702.45) rotate(0.03)" font-size="8.13" fill="#141414" stroke="#141414" stroke-width="0.195">Subgroup, DL (I<tspan dy="-4.23" dx="0.33" font-size="4.07">2</tspan><tspan dy="4.23" dx="0.41"> </tspan>= 37.3%, p = 0.203)</text>
<text class="s" transform="translate(1055.90 702.45) rotate(0.03)" font-size="8.13" fill="#141414" stroke="#141414" stroke-width="0.195">1.04 (1.01, 1.07)</text>
<text class="s" transform="translate(1143.90 702.45) rotate(0.03)" font-size="8.13" text-anchor="end" fill="#141414" stroke="#141414" stroke-width="0.195">52.87</text>
<path d="M960.09 699.1400000000001L961.83 692.94L963.51 699.1400000000001L961.83 705.3400000000001Z" fill="none" stroke="#17175c" stroke-width="1.35" stroke-linejoin="round"/>
<text class="s" transform="translate(798.90 733.44) rotate(0.03)" font-size="8.13" fill="#141414" stroke="#141414" stroke-width="0.195">third</text>
<text class="s" transform="translate(798.90 748.93) rotate(0.03)" font-size="8.13" fill="#141414" stroke="#141414" stroke-width="0.195">Mobasher (2013)</text>
<text class="s" transform="translate(1055.90 748.93) rotate(0.03)" font-size="8.13" fill="#141414" stroke="#141414" stroke-width="0.195">1.29 (0.83, 2.00)</text>
<text class="s" transform="translate(1143.90 748.93) rotate(0.03)" font-size="8.13" text-anchor="end" fill="#141414" stroke="#141414" stroke-width="0.195">0.54</text>
<line x1="948.45" y1="745.6220000000001" x2="1000.6" y2="745.6220000000001" stroke="#111" stroke-width="1.5"/>
<path d="M972.10 745.6220000000001L974.6 743.12L977.10 745.6220000000001L974.6 748.12Z" fill="#000"/>
<text class="s" transform="translate(798.90 764.43) rotate(0.03)" font-size="8.13" fill="#141414" stroke="#141414" stroke-width="0.195">Subgroup, DL (I<tspan dy="-4.23" dx="0.33" font-size="4.07">2</tspan><tspan dy="4.23" dx="0.41"> </tspan>= 0.0%, p &lt; 0.001)</text>
<text class="s" transform="translate(1055.90 764.43) rotate(0.03)" font-size="8.13" fill="#141414" stroke="#141414" stroke-width="0.195">1.29 (0.83, 2.00)</text>
<text class="s" transform="translate(1143.90 764.43) rotate(0.03)" font-size="8.13" text-anchor="end" fill="#141414" stroke="#141414" stroke-width="0.195">0.54</text>
<path d="M948.45 761.116L974.6 754.9159999999999L1000.6 761.116L974.6 767.316Z" fill="none" stroke="#17175c" stroke-width="1.35" stroke-linejoin="round"/>
<text class="s" transform="translate(798.90 795.41) rotate(0.03)" font-size="8.13" fill="#141414" stroke="#141414" stroke-width="0.195">Heterogeneity between groups: p = 0.517</text>
<text class="s" transform="translate(798.90 810.91) rotate(0.03)" font-size="8.13" fill="#141414" stroke="#141414" stroke-width="0.195">Overall, DL (I<tspan dy="-4.23" dx="0.33" font-size="4.07">2</tspan><tspan dy="4.23" dx="0.41"> </tspan>= 71.6%, p = 0.002)</text>
<text class="s" transform="translate(1055.90 810.91) rotate(0.03)" font-size="8.13" fill="#141414" stroke="#141414" stroke-width="0.195">1.04 (1.01, 1.08)</text>
<text class="s" transform="translate(1143.90 810.91) rotate(0.03)" font-size="8.13" text-anchor="end" fill="#141414" stroke="#141414" stroke-width="0.195">100.00</text>
<path d="M960.09 807.5980000000001L961.83 801.398L964.06 807.5980000000001L961.83 813.7980000000001Z" fill="none" stroke="#17175c" stroke-width="1.35" stroke-linejoin="round"/>
<text class="s" transform="translate(798.20 851.60) rotate(0.03)" font-size="5.87" fill="#141414" stroke="#141414" stroke-width="0.141">NOTE: Weights and between-subgroup heterogeneity test are from random-effects model</text>
</g>
</svg>
</body></html>
